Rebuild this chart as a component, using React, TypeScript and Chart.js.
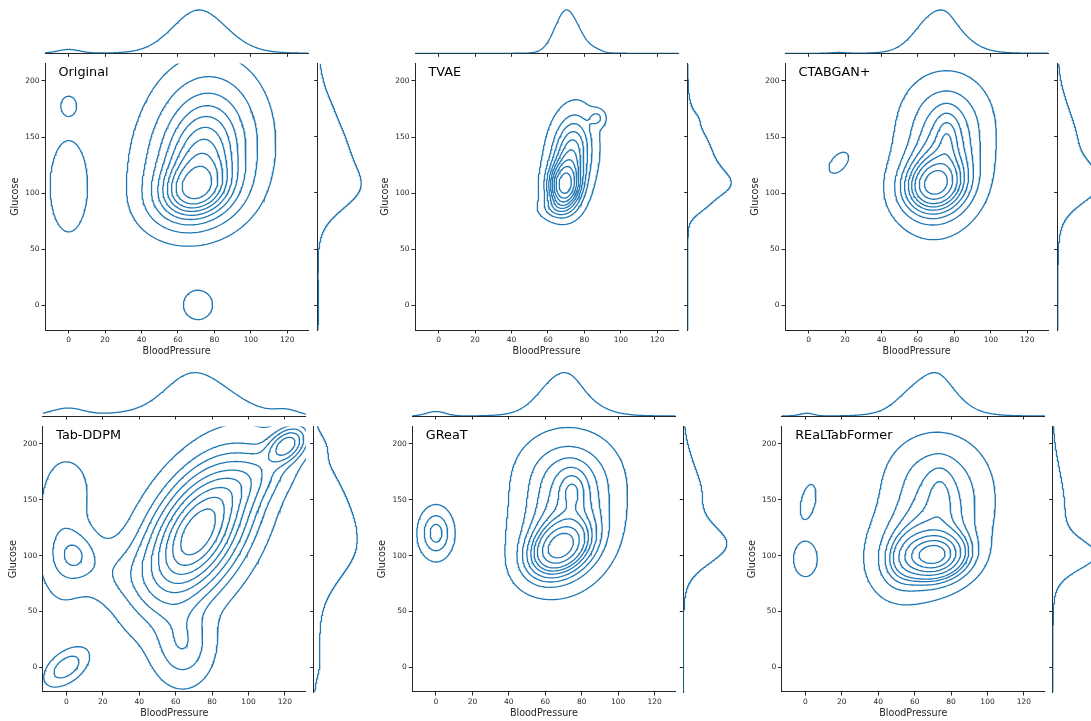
import React, { useEffect, useRef } from "react";
import { Chart, registerables } from "chart.js";

Chart.register(...registerables);

// ---------------- data ----------------
const PANEL_NAMES = ["Original", "TVAE", "CTABGAN+", "Tab-DDPM", "GReaT", "REaLTabFormer"];
const X_LABEL = "BloodPressure";
const Y_LABEL = "Glucose";
const X_TICKS = [0, 20, 40, 60, 80, 100, 120];
const Y_TICKS = [0, 50, 100, 150, 200];
const X_LIMITS = [-13, 131.5];
const Y_LIMITS = [-22.2, 215.6];
// iso-proportion levels used for the KDE contours (seaborn default: 10 levels, thresh 0.05)
const ISO_PROPORTIONS = [0.05, 0.1556, 0.2611, 0.3667, 0.4722, 0.5778, 0.6833, 0.7889, 0.8944];

// Density components estimated from each panel: [meanBP, meanGlucose, sdBP, sdGlucose, corr, weight]
const ORIGINAL_KDE = [
  [69, 101, 13, 17, 0.15, 0.28],
  [72, 127, 15, 26, 0.1, 0.34],
  [76, 160, 15, 29, 0.05, 0.24],
  [73, 128, 24, 44, 0.05, 0.09],
  [0, 106, 6.5, 26, 0, 0.032],
  [0, 178, 4, 8, 0, 0.003],
  [71, 0, 6.5, 10.6, 0, 0.008],
];
const TVAE_KDE = [
  [69, 106, 5.5, 13, 0.05, 0.42],
  [73, 135, 7, 22, 0.15, 0.48],
  [87, 167, 3, 5, 0, 0.015],
  [64, 86, 6, 6, 0, 0.03],
  [72, 125, 11, 30, 0.1, 0.05],
];
const CTABGAN_KDE = [
  [69, 107, 10, 15, 0.1, 0.36],
  [73, 125, 12, 28, 0.15, 0.36],
  [76, 150, 4, 14, 0, 0.025],
  [75, 168, 13, 22, 0, 0.13],
  [74, 125, 19, 40, 0.05, 0.08],
  [16.5, 127, 4, 7, 0.5, 0.006],
];
const TABDDPM_KDE = [
  [72, 120, 17, 36, 0.5, 0.6],
  [121, 199, 6.5, 10, 0.4, 0.03],
  [100, 168, 14, 18, 0.5, 0.04],
  [5, 100, 7.5, 14, 0, 0.016],
  [3, 165, 11, 22, 0, 0.008],
  [0, 0, 7, 10, 0.5, 0.011],
  [64, 20, 10, 22, 0, 0.04],
  [-3, 115, 9, 38, 0, 0.03],
  [28, 85, 14, 18, 0, 0.02],
  [72, 120, 30, 60, 0.4, 0.06],
];
const GREAT_KDE = [
  [68, 107, 10, 15, 0.3, 0.36],
  [71, 128, 14, 28, 0.15, 0.3],
  [75, 158, 5, 12, 0, 0.03],
  [72, 172, 15, 22, 0, 0.15],
  [0, 120, 5.3, 13, 0, 0.04],
  [72, 125, 21, 40, 0.05, 0.07],
];
const REALTABFORMER_KDE = [
  [71, 100, 10, 12, 0.1, 0.34],
  [66, 115, 15, 25, 0.3, 0.25],
  [74, 155, 4.5, 16, 0, 0.015],
  [72, 165, 15, 24, 0, 0.14],
  [55, 98, 7, 15, 0.2, 0.05],
  [1.5, 148, 3, 11, 0.4, 0.006],
  [0, 97, 4.5, 11, 0, 0.01],
  [70, 120, 21, 40, 0.1, 0.07],
];
const PANEL_KDES = [ORIGINAL_KDE, TVAE_KDE, CTABGAN_KDE, TABDDPM_KDE, GREAT_KDE, REALTABFORMER_KDE];

// ---------------- layout & style ----------------
const ROWS = [
  { areaTop: 63.3, areaBottom: 330, margBase: 53.3, rightGap: 9.5, lefts: [45, 415, 785] },
  { areaTop: 426, areaBottom: 692, margBase: 416, rightGap: 7.8, lefts: [42.7, 412.3, 781.7] },
];
const AREA_W = 263.2;
const LINE = "#1f77b4";
const INK = "#262626";
const FONT = "'DejaVu Sans', sans-serif";
const TICK_SIZE = 7.5;
const LABEL_SIZE = 9.6;
const NAME_SIZE = 12.8;

// ---------------- math helpers ----------------
type Comp = number[];
function dens2(c: Comp, x: number, y: number) {
  const [mx, my, sx, sy, r, w] = c;
  const dx = (x - mx) / sx;
  const dy = (y - my) / sy;
  const om = 1 - r * r;
  return (w / (2 * Math.PI * sx * sy * Math.sqrt(om))) * Math.exp(-(dx * dx - 2 * r * dx * dy + dy * dy) / (2 * om));
}
function dens1(m: number, s: number, w: number, v: number) {
  const d = (v - m) / s;
  return (w / (s * Math.sqrt(2 * Math.PI))) * Math.exp(-0.5 * d * d);
}

type Pt = { x: number; y: number };

function contourLines(vals: Float64Array, nx: number, ny: number, xs: number[], ys: number[], L: number): Pt[][] {
  const pts = new Map<number, Pt>();
  const segs: [number, number][] = [];
  const id = (i: number, j: number) => j * nx + i;
  const hKey = (i: number, j: number) => {
    const k = id(i, j) * 2;
    if (!pts.has(k)) {
      const a = vals[id(i, j)], b = vals[id(i + 1, j)];
      const t = (L - a) / (b - a);
      pts.set(k, { x: xs[i] + t * (xs[i + 1] - xs[i]), y: ys[j] });
    }
    return k;
  };
  const vKey = (i: number, j: number) => {
    const k = id(i, j) * 2 + 1;
    if (!pts.has(k)) {
      const a = vals[id(i, j)], b = vals[id(i, j + 1)];
      const t = (L - a) / (b - a);
      pts.set(k, { x: xs[i], y: ys[j] + t * (ys[j + 1] - ys[j]) });
    }
    return k;
  };
  for (let j = 0; j < ny - 1; j++) {
    for (let i = 0; i < nx - 1; i++) {
      const v0 = vals[id(i, j)], v1 = vals[id(i + 1, j)], v2 = vals[id(i + 1, j + 1)], v3 = vals[id(i, j + 1)];
      const c = (v0 > L ? 1 : 0) | (v1 > L ? 2 : 0) | (v2 > L ? 4 : 0) | (v3 > L ? 8 : 0);
      if (c === 0 || c === 15) continue;
      const E0 = (v0 > L) !== (v1 > L);
      const E1 = (v1 > L) !== (v2 > L);
      const E2 = (v3 > L) !== (v2 > L);
      const E3 = (v0 > L) !== (v3 > L);
      const k0 = E0 ? hKey(i, j) : -1;
      const k1 = E1 ? vKey(i + 1, j) : -1;
      const k2 = E2 ? hKey(i, j + 1) : -1;
      const k3 = E3 ? vKey(i, j) : -1;
      if (c === 5 || c === 10) {
        const center = (v0 + v1 + v2 + v3) / 4 > L;
        if ((c === 5 && center) || (c === 10 && !center)) {
          segs.push([k0, k1]);
          segs.push([k2, k3]);
        } else {
          segs.push([k0, k3]);
          segs.push([k1, k2]);
        }
      } else {
        const e: number[] = [];
        for (const k of [k0, k1, k2, k3]) if (k >= 0) e.push(k);
        if (e.length === 2) segs.push([e[0], e[1]]);
      }
    }
  }
  const adj = new Map<number, number[]>();
  segs.forEach((s, n) => {
    for (const k of s) {
      if (!adj.has(k)) adj.set(k, []);
      adj.get(k)!.push(n);
    }
  });
  const used = new Array(segs.length).fill(false);
  const lines: Pt[][] = [];
  const walk = (start: number): number[] => {
    const out: number[] = [];
    let cur = start;
    for (;;) {
      const cand = (adj.get(cur) || []).find((n) => !used[n]);
      if (cand === undefined) break;
      used[cand] = true;
      const s = segs[cand];
      cur = s[0] === cur ? s[1] : s[0];
      out.push(cur);
    }
    return out;
  };
  for (let n = 0; n < segs.length; n++) {
    if (used[n]) continue;
    used[n] = true;
    const [a, b] = segs[n];
    const fwd = walk(b);
    const back = walk(a);
    const keys = [...back.reverse(), a, b, ...fwd];
    lines.push(keys.map((k) => pts.get(k)!));
  }
  return lines;
}

function kdeContours(mix: Comp[]): Pt[][] {
  const nx = 220, ny = 240;
  const x0 = -50, x1 = 170, y0 = -80, y1 = 280;
  const xs: number[] = [], ys: number[] = [];
  for (let i = 0; i < nx; i++) xs.push(x0 + ((x1 - x0) * i) / (nx - 1));
  for (let j = 0; j < ny; j++) ys.push(y0 + ((y1 - y0) * j) / (ny - 1));
  const vals = new Float64Array(nx * ny);
  let total = 0;
  for (let j = 0; j < ny; j++)
    for (let i = 0; i < nx; i++) {
      let s = 0;
      for (const c of mix) s += dens2(c, xs[i], ys[j]);
      vals[j * nx + i] = s;
      total += s;
    }
  const sorted = Array.from(vals).sort((a, b) => b - a);
  const cum: number[] = [];
  let acc = 0;
  for (const v of sorted) {
    acc += v;
    cum.push(acc / total);
  }
  const levels = ISO_PROPORTIONS.map((p) => {
    const target = 1 - p;
    let lo = 0, hi = cum.length - 1;
    while (lo < hi) {
      const mid = (lo + hi) >> 1;
      if (cum[mid] < target) lo = mid + 1;
      else hi = mid;
    }
    return sorted[lo];
  });
  const out: Pt[][] = [];
  for (const L of levels) out.push(...contourLines(vals, nx, ny, xs, ys, L));
  return out;
}

// ---------------- chart builders ----------------
const lineDs = (data: Pt[]) => ({
  data,
  showLine: true,
  pointRadius: 0,
  borderColor: LINE,
  borderWidth: 1.3,
  fill: false,
  tension: 0,
});

const baseOpts = {
  animation: false as const,
  responsive: false,
  maintainAspectRatio: false,
  events: [] as any[],
  plugins: { legend: { display: false }, tooltip: { enabled: false }, title: { display: false } },
};

type Geo = { l: number; t: number; w: number; h: number };

function mainChart(canvas: HTMLCanvasElement, g: Geo, areaL: number, areaT: number, areaR: number, areaB: number, mix: Comp[], name: string) {
  const lines = kdeContours(mix);
  const lh = LABEL_SIZE * 1.2;
  const xH = 26.8;
  const namePlugin = {
    id: "panelName",
    afterDraw(chart: any) {
      const { ctx, chartArea } = chart;
      ctx.save();
      ctx.font = `${NAME_SIZE}px ${FONT}`;
      ctx.fillStyle = "#000";
      ctx.textBaseline = "middle";
      ctx.textAlign = "left";
      ctx.fillText(name, chartArea.left + 13.5, chartArea.top + 9.3);
      ctx.restore();
    },
  };
  return new Chart(canvas, {
    type: "scatter",
    data: { datasets: lines.map((p) => lineDs(p)) as any },
    options: {
      ...baseOpts,
      layout: { padding: { left: 0, top: areaT - g.t, right: g.l + g.w - areaR, bottom: g.t + g.h - (areaB + xH) } },
      scales: {
        x: {
          type: "linear",
          min: X_LIMITS[0],
          max: X_LIMITS[1],
          afterBuildTicks: (s: any) => {
            s.ticks = X_TICKS.map((v) => ({ value: v }));
          },
          afterFit: (s: any) => {
            s.height = xH;
          },
          grid: { drawOnChartArea: false, drawTicks: true, tickLength: 3.5, color: INK, lineWidth: 1 },
          border: { display: true, color: INK, width: 1 },
          ticks: { font: { family: FONT, size: TICK_SIZE }, color: INK, padding: 2, autoSkip: false, maxRotation: 0 },
          title: { display: true, text: X_LABEL, font: { family: FONT, size: LABEL_SIZE }, color: INK, padding: { top: 0, bottom: 0 } },
        },
        y: {
          type: "linear",
          min: Y_LIMITS[0],
          max: Y_LIMITS[1],
          afterBuildTicks: (s: any) => {
            s.ticks = Y_TICKS.map((v) => ({ value: v }));
          },
          afterFit: (s: any) => {
            s.width = areaL - g.l;
          },
          grid: { drawOnChartArea: false, drawTicks: true, tickLength: 3.5, color: INK, lineWidth: 1 },
          border: { display: true, color: INK, width: 1 },
          ticks: { font: { family: FONT, size: TICK_SIZE }, color: INK, padding: 2, autoSkip: false },
          title: {
            display: true,
            text: Y_LABEL,
            font: { family: FONT, size: LABEL_SIZE },
            color: INK,
            padding: { top: Math.max(0, areaL - 29.5 - lh / 2 - g.l), bottom: 0 },
          },
        },
      },
    } as any,
    plugins: [namePlugin],
  });
}

function topMarginal(canvas: HTMLCanvasElement, g: Geo, areaL: number, areaR: number, base: number, mix: Comp[]) {
  const data: Pt[] = [];
  for (let x = X_LIMITS[0]; x <= X_LIMITS[1] + 1e-9; x += 0.5) {
    let s = 0;
    for (const c of mix) s += dens1(c[0], c[2], c[5], x);
    data.push({ x, y: s });
  }
  const peak = Math.max(...data.map((p) => p.y));
  const areaH = 45.5;
  return new Chart(canvas, {
    type: "scatter",
    data: { datasets: [lineDs(data)] as any },
    options: {
      ...baseOpts,
      layout: { padding: { left: areaL - g.l, right: g.l + g.w - areaR, top: base - areaH - g.t, bottom: 0 } },
      scales: {
        x: {
          type: "linear",
          min: X_LIMITS[0],
          max: X_LIMITS[1],
          afterBuildTicks: (s: any) => {
            s.ticks = X_TICKS.map((v) => ({ value: v }));
          },
          afterFit: (s: any) => {
            s.height = g.t + g.h - base;
          },
          grid: { drawOnChartArea: false, drawTicks: true, tickLength: 3.5, color: INK, lineWidth: 1 },
          border: { display: true, color: INK, width: 1 },
          ticks: { display: false },
        },
        y: { type: "linear", display: false, min: 0, max: peak * 1.05 },
      },
    } as any,
  });
}

function rightMarginal(canvas: HTMLCanvasElement, g: Geo, spine: number, areaT: number, areaB: number, mix: Comp[]) {
  const data: Pt[] = [];
  for (let y = Y_LIMITS[0]; y <= Y_LIMITS[1] + 1e-9; y += 0.5) {
    let s = 0;
    for (const c of mix) s += dens1(c[1], c[3], c[5], y);
    data.push({ x: s, y });
  }
  const peak = Math.max(...data.map((p) => p.x));
  const areaW = 45.7;
  return new Chart(canvas, {
    type: "scatter",
    data: { datasets: [lineDs(data)] as any },
    options: {
      ...baseOpts,
      layout: { padding: { left: 0, right: g.l + g.w - (spine + areaW), top: areaT - g.t, bottom: g.t + g.h - areaB } },
      scales: {
        x: { type: "linear", display: false, min: 0, max: peak * 1.05 },
        y: {
          type: "linear",
          min: Y_LIMITS[0],
          max: Y_LIMITS[1],
          afterBuildTicks: (s: any) => {
            s.ticks = Y_TICKS.map((v) => ({ value: v }));
          },
          afterFit: (s: any) => {
            s.width = spine - g.l;
          },
          grid: { drawOnChartArea: false, drawTicks: true, tickLength: 3.5, color: INK, lineWidth: 1 },
          border: { display: true, color: INK, width: 1 },
          ticks: { display: false },
        },
      },
    } as any,
  });
}

// ---------------- geometry ----------------
type Spec = { kind: "main" | "top" | "right"; panel: number; g: Geo };
function buildSpecs(): Spec[] {
  const specs: Spec[] = [];
  PANEL_NAMES.forEach((_, p) => {
    const row = ROWS[Math.floor(p / 3)];
    const areaL = row.lefts[p % 3];
    const areaR = areaL + AREA_W;
    const mainL = Math.floor(areaL - 36);
    const mainT = Math.floor(row.areaTop - 6);
    specs.push({ kind: "main", panel: p, g: { l: mainL, t: mainT, w: Math.ceil(areaR + 6) - mainL, h: Math.ceil(row.areaBottom + 27) - mainT } });
    const topL = Math.floor(areaL - 2);
    const topT = Math.floor(row.margBase - 47);
    specs.push({ kind: "top", panel: p, g: { l: topL, t: topT, w: Math.ceil(areaR + 2) - topL, h: Math.ceil(row.margBase + 5) - topT } });
    const spine = areaR + row.rightGap;
    const rL = Math.floor(spine - 5);
    const rT = Math.floor(row.areaTop - 2);
    specs.push({ kind: "right", panel: p, g: { l: rL, t: rT, w: Math.ceil(spine + 50) - rL, h: Math.ceil(row.areaBottom + 2) - rT } });
  });
  return specs;
}
const SPECS = buildSpecs();

export default function App() {
  const refs = useRef<(HTMLCanvasElement | null)[]>([]);
  useEffect(() => {
    const charts: Chart[] = [];
    SPECS.forEach((s, n) => {
      const canvas = refs.current[n];
      if (!canvas) return;
      const p = s.panel;
      const row = ROWS[Math.floor(p / 3)];
      const areaL = row.lefts[p % 3];
      const areaR = areaL + AREA_W;
      const mix = PANEL_KDES[p];
      if (s.kind === "main") charts.push(mainChart(canvas, s.g, areaL, row.areaTop, areaR, row.areaBottom, mix, PANEL_NAMES[p]));
      else if (s.kind === "top") charts.push(topMarginal(canvas, s.g, areaL, areaR, row.margBase, mix));
      else charts.push(rightMarginal(canvas, s.g, areaR + row.rightGap, row.areaTop, row.areaBottom, mix));
    });
    return () => charts.forEach((c) => c.destroy());
  }, []);
  return (
    <div style={{ position: "absolute", left: 0, top: 0, width: 1091, height: 721, overflow: "hidden", background: "#fff" }}>
      {SPECS.map((s, n) => (
        <div key={n} style={{ position: "absolute", left: s.g.l, top: s.g.t, width: s.g.w, height: s.g.h }}>
          <canvas
            ref={(el) => {
              refs.current[n] = el;
            }}
            width={s.g.w}
            height={s.g.h}
            style={{ width: s.g.w, height: s.g.h, display: "block" }}
          />
        </div>
      ))}
    </div>
  );
}
